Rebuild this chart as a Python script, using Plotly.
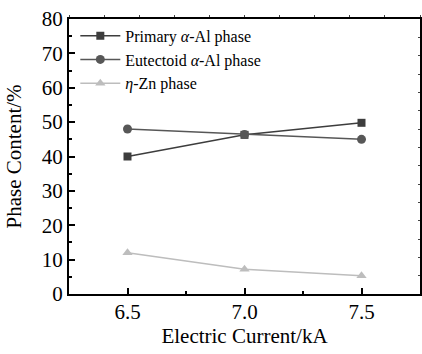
import plotly.graph_objects as go

current = [6.5, 7.0, 7.5]
primary = [40.0, 46.3, 49.8]
eutectoid = [48.0, 46.4, 45.0]
eta_zn = [12.0, 7.2, 5.3]

names = ["Primary <i>α</i>-Al phase", "Eutectoid <i>α</i>-Al phase", "<i>η</i>-Zn phase"]
x_ticks = [6.5, 7.0, 7.5]
x_tick_text = ["6.5", "7.0", "7.5"]
y_ticks = [0, 10, 20, 30, 40, 50, 60, 70, 80]

FONT = "Liberation Serif, Times New Roman, serif"

fig = go.Figure()
fig.add_trace(go.Scatter(x=current, y=primary, name=names[0], mode="lines+markers",
                         line=dict(color="#3d3d3d", width=1.5),
                         marker=dict(symbol="square", size=8, color="#3d3d3d")))
fig.add_trace(go.Scatter(x=current, y=eutectoid, name=names[1], mode="lines+markers",
                         line=dict(color="#575757", width=1.5),
                         marker=dict(symbol="circle", size=9, color="#575757")))
fig.add_trace(go.Scatter(x=current, y=eta_zn, name=names[2], mode="lines+markers",
                         line=dict(color="#bdbdbd", width=1.5),
                         marker=dict(symbol="triangle-up", size=9, color="#bdbdbd")))
# invisible trace to activate top/right frame axes
fig.add_trace(go.Scatter(x=[6.5], y=[0], xaxis="x2", yaxis="y2", mode="markers",
                         marker=dict(opacity=0), showlegend=False, hoverinfo="skip"))

fig.update_layout(
    width=422, height=354,
    margin=dict(l=69, r=2, t=19, b=60, autoexpand=False),
    paper_bgcolor="white", plot_bgcolor="white",
    font=dict(family=FONT, color="black"),
    showlegend=True,
    legend=dict(x=0.018, y=1.001, xanchor="left", yanchor="top",
                bgcolor="rgba(0,0,0,0)", font=dict(size=16, family=FONT),
                tracegroupgap=0, itemwidth=40),
    xaxis=dict(range=[6.25, 7.75], tickvals=x_ticks, ticktext=x_tick_text,
               ticks="inside", ticklen=6, tickwidth=1.5, tickcolor="black",
               minor=dict(ticks="inside", ticklen=3, tickwidth=1.5, dtick=0.25, tick0=6.5, tickcolor="black"),
               showline=True, linecolor="black", linewidth=2, mirror=False,
               showgrid=False, zeroline=False, automargin=False,
               ticklabelstandoff=-2, ticklabeloverflow="allow",
               tickfont=dict(size=21, family=FONT),
               title=dict(text="Electric Current/kA", font=dict(size=21, family=FONT), standoff=2)),
    yaxis=dict(range=[0, 80], tickvals=y_ticks,
               ticks="inside", ticklen=6, tickwidth=1.5, tickcolor="black",
               minor=dict(ticks="inside", ticklen=3, tickwidth=1.5, dtick=5, tick0=0, tickcolor="black"),
               showline=True, linecolor="black", linewidth=2, mirror=False,
               showgrid=False, zeroline=False, automargin=False,
               ticklabeloverflow="allow",
               tickfont=dict(size=21, family=FONT),
               title=dict(text="Phase Content/%", font=dict(size=21, family=FONT), standoff=14)),
    xaxis2=dict(overlaying="x", side="top", anchor="y2", range=[6.25, 7.75],
                tick0=6.25, dtick=0.15, ticks="outside", ticklen=2, tickwidth=1, tickcolor="#444",
                showticklabels=False, showline=True, linecolor="black", linewidth=1.5,
                showgrid=False, zeroline=False, automargin=False),
    yaxis2=dict(overlaying="y", side="right", anchor="x2", range=[0, 80],
                tick0=0, dtick=80/15, ticks="inside", ticklen=2, tickwidth=1, tickcolor="#444",
                showticklabels=False, showline=True, linecolor="black", linewidth=2,
                showgrid=False, zeroline=False, automargin=False),
)

fig.write_html("out.html", config={"displayModeBar": False},
               post_script="document.body.style.margin='0';document.body.style.overflow='hidden';")
